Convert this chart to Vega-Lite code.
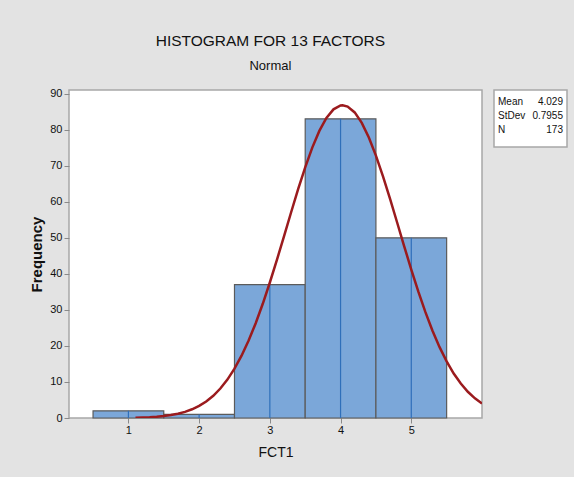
{
  "$schema": "https://vega.github.io/schema/vega-lite/v6.json",
  "background": "#e3e3e3",
  "padding": {"left": 29, "top": 34, "right": 6, "bottom": 18},
  "title": {
    "text": "HISTOGRAM FOR 13 FACTORS",
    "subtitle": "Normal",
    "font": "Liberation Sans",
    "fontSize": 15.5,
    "fontWeight": "normal",
    "color": "#111111",
    "subtitleFont": "Liberation Sans",
    "subtitleFontSize": 13,
    "subtitleColor": "#111111",
    "subtitlePadding": 10,
    "anchor": "middle",
    "dx": -28,
    "offset": 14
  },
  "datasets": {
    "bins": [
      {"mid": 1, "lo": 0.5, "hi": 1.5, "count": 2},
      {"mid": 2, "lo": 1.5, "hi": 2.5, "count": 1},
      {"mid": 3, "lo": 2.5, "hi": 3.5, "count": 37},
      {"mid": 4, "lo": 3.5, "hi": 4.5, "count": 83},
      {"mid": 5, "lo": 4.5, "hi": 5.5, "count": 50}
    ],
    "curve": [
      {"x": 1.1, "y": 0.10}, {"x": 1.2, "y": 0.16}, {"x": 1.3, "y": 0.24}, {"x": 1.4, "y": 0.37},
      {"x": 1.5, "y": 0.55}, {"x": 1.6, "y": 0.82}, {"x": 1.7, "y": 1.19}, {"x": 1.8, "y": 1.71},
      {"x": 1.9, "y": 2.42}, {"x": 2.0, "y": 3.35}, {"x": 2.1, "y": 4.59}, {"x": 2.2, "y": 6.17},
      {"x": 2.3, "y": 8.18}, {"x": 2.4, "y": 10.66}, {"x": 2.5, "y": 13.68}, {"x": 2.6, "y": 17.28},
      {"x": 2.7, "y": 21.49}, {"x": 2.8, "y": 26.30}, {"x": 2.9, "y": 31.69}, {"x": 3.0, "y": 37.59},
      {"x": 3.1, "y": 43.87}, {"x": 3.2, "y": 50.41}, {"x": 3.3, "y": 57.01}, {"x": 3.4, "y": 63.47},
      {"x": 3.5, "y": 69.55}, {"x": 3.6, "y": 75.02}, {"x": 3.7, "y": 79.65}, {"x": 3.8, "y": 83.24},
      {"x": 3.9, "y": 85.63}, {"x": 4.0, "y": 86.70}, {"x": 4.029, "y": 86.76}, {"x": 4.1, "y": 86.41},
      {"x": 4.2, "y": 84.78}, {"x": 4.3, "y": 81.87}, {"x": 4.4, "y": 77.82}, {"x": 4.5, "y": 72.81},
      {"x": 4.6, "y": 67.06}, {"x": 4.7, "y": 60.79}, {"x": 4.8, "y": 54.24}, {"x": 4.9, "y": 47.64},
      {"x": 5.0, "y": 41.19}, {"x": 5.1, "y": 35.05}, {"x": 5.2, "y": 29.37}, {"x": 5.3, "y": 24.21},
      {"x": 5.4, "y": 19.65}, {"x": 5.5, "y": 15.70}, {"x": 5.6, "y": 12.34}, {"x": 5.7, "y": 9.55},
      {"x": 5.8, "y": 7.28}, {"x": 5.9, "y": 5.46}, {"x": 6.0, "y": 4.03}
    ],
    "stats": [
      {"row": 1, "label": "Mean", "value": "4.029"},
      {"row": 2, "label": "StDev", "value": "0.7955"},
      {"row": 3, "label": "N", "value": "173"}
    ]
  },
  "spacing": 12,
  "bounds": "flush",
  "config": {
    "view": {"stroke": "#a8a8a8", "strokeWidth": 1.5, "fill": "white"},
    "axis": {
      "domain": false,
      "grid": false,
      "tickColor": "#8a8a8a",
      "tickSize": 5,
      "labelFont": "Liberation Sans",
      "labelFontSize": 11,
      "labelColor": "#111111",
      "titleColor": "#111111",
      "labelOverlap": false,
      "format": "d"
    }
  },
  "hconcat": [
    {
      "width": 413,
      "height": 328,
      "layer": [
        {
          "data": {"name": "bins"},
          "mark": {"type": "rect", "fill": "#7ba7d9", "stroke": "#5b5b5b", "strokeWidth": 1.2},
          "encoding": {
            "x": {
              "field": "lo", "type": "quantitative",
              "scale": {"domain": [0.16, 6.0], "nice": false, "zero": false},
              "axis": {"values": [1, 2, 3, 4, 5], "title": "FCT1", "labelPadding": 1, "format": "d",
                       "titleFont": "Liberation Sans", "titleFontSize": 14, "titleFontWeight": "normal", "titlePadding": 10}
            },
            "x2": {"field": "hi"},
            "y": {
              "field": "count", "type": "quantitative",
              "scale": {"domain": [0, 91], "nice": false},
              "axis": {"values": [0, 10, 20, 30, 40, 50, 60, 70, 80, 90], "title": "Frequency", "labelPadding": 2, "format": "d",
                       "titleFont": "Liberation Sans", "titleFontSize": 15, "titleFontWeight": "bold", "titlePadding": 5}
            },
            "y2": {"datum": 0}
          }
        },
        {
          "data": {"name": "bins"},
          "mark": {"type": "rule", "color": "#2f6fba", "strokeWidth": 1.2},
          "encoding": {
            "x": {"field": "mid", "type": "quantitative",
              "axis": {"values": [1, 2, 3, 4, 5], "title": "FCT1", "labelPadding": 1, "format": "d",
                       "titleFont": "Liberation Sans", "titleFontSize": 14, "titleFontWeight": "normal", "titlePadding": 10}},
            "y": {"field": "count", "type": "quantitative",
              "axis": {"values": [0, 10, 20, 30, 40, 50, 60, 70, 80, 90], "title": "Frequency", "labelPadding": 2, "format": "d",
                       "titleFont": "Liberation Sans", "titleFontSize": 15, "titleFontWeight": "bold", "titlePadding": 5}},
            "y2": {"datum": 0}
          }
        },
        {
          "data": {"name": "curve"},
          "mark": {"type": "line", "color": "#9b1b1e", "strokeWidth": 2.5, "clip": true},
          "encoding": {
            "x": {"field": "x", "type": "quantitative",
              "axis": {"values": [1, 2, 3, 4, 5], "title": "FCT1", "labelPadding": 1, "format": "d",
                       "titleFont": "Liberation Sans", "titleFontSize": 14, "titleFontWeight": "normal", "titlePadding": 10}},
            "y": {"field": "y", "type": "quantitative",
              "axis": {"values": [0, 10, 20, 30, 40, 50, 60, 70, 80, 90], "title": "Frequency", "labelPadding": 2, "format": "d",
                       "titleFont": "Liberation Sans", "titleFontSize": 15, "titleFontWeight": "bold", "titlePadding": 5}}
          }
        }
      ]
    },
    {
      "width": 73,
      "height": 57,
      "data": {"name": "stats"},
      "layer": [
        {
          "mark": {"type": "text", "align": "left", "baseline": "middle", "font": "Liberation Sans", "fontSize": 10, "dx": 4, "color": "#111111"},
          "encoding": {
            "x": {"datum": 0, "type": "quantitative", "scale": {"domain": [0, 1]}, "axis": null},
            "y": {"field": "row", "type": "quantitative", "scale": {"domain": [0.109, 4.24], "reverse": true, "nice": false, "zero": false}, "axis": null},
            "text": {"field": "label"}
          }
        },
        {
          "mark": {"type": "text", "align": "right", "baseline": "middle", "font": "Liberation Sans", "fontSize": 10, "dx": -4, "color": "#111111"},
          "encoding": {
            "x": {"datum": 1, "type": "quantitative", "axis": null},
            "y": {"field": "row", "type": "quantitative", "axis": null},
            "text": {"field": "value"}
          }
        }
      ]
    }
  ]
}
